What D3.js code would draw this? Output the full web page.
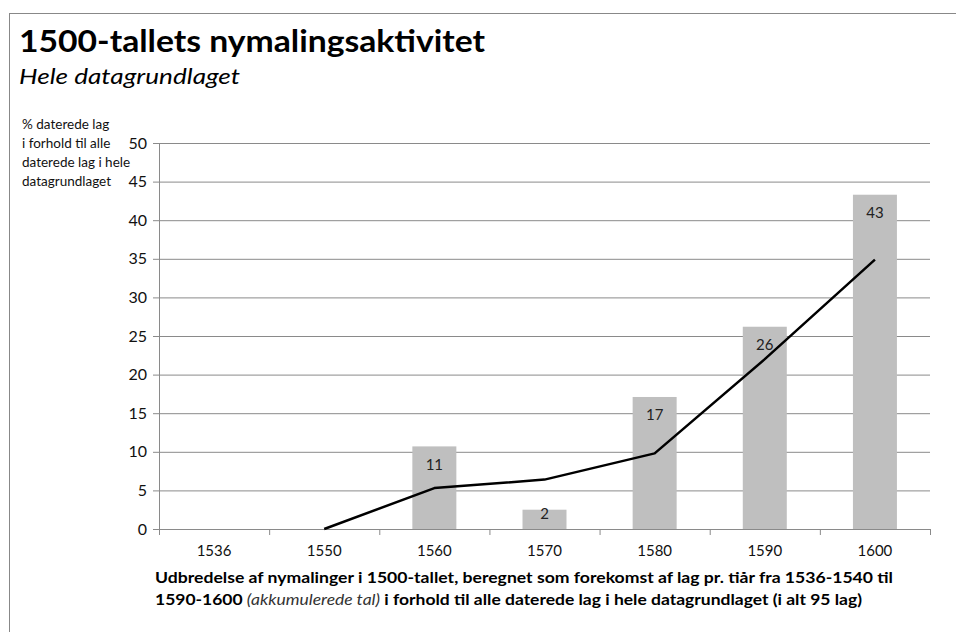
<!DOCTYPE html>
<html>
<head>
<meta charset="utf-8">
<script src="https://cdn.jsdelivr.net/npm/d3@7"></script>
<style>
  body { margin: 0; background: #fff; }
  svg { display: block; font-family: Lato, "Open Sans", sans-serif; }
</style>
</head>
<body>
<svg width="956" height="632"></svg>
<script>
'use strict';

// data
let years = ["1536", "1550", "1560", "1570", "1580", "1590", "1600"];
let barValues = [0, 0, 10.7, 2.5, 17.1, 26.2, 43.3];
let barLabels = ["", "", "11", "2", "17", "26", "43"];
let lineValues = [null, 0, 5.3, 6.4, 9.8, 22, 34.9];
let yTicks = [0, 5, 10, 15, 20, 25, 30, 35, 40, 45, 50];
let yTitle = ["% daterede lag", "i forhold til alle", "daterede lag i hele", "datagrundlaget"];

let svg = d3.select("svg");

// outer frame
svg.append("rect")
  .attr("x", 9.5).attr("y", 13.5)
  .attr("width", 960).attr("height", 640)
  .attr("fill", "none")
  .attr("stroke", "#888");

let plotL = 159, plotR = 930, plotT = 143, plotB = 529;

let x = d3.scaleBand().domain(years).range([plotL, plotR]);
let y = d3.scaleLinear().domain([0, 50]).range([plotB, plotT]);

// title
svg.append("text")
  .attr("x", 19).attr("y", 52)
  .attr("font-size", 31).attr("font-weight", "bold")
  .attr("textLength", 466).attr("lengthAdjust", "spacingAndGlyphs")
  .text("1500-tallets nymalingsaktivitet");

svg.append("text")
  .attr("x", 19).attr("y", 84)
  .attr("font-size", 22).attr("font-style", "italic")
  .attr("textLength", 221).attr("lengthAdjust", "spacingAndGlyphs")
  .text("Hele datagrundlaget");

// y axis title
svg.append("g")
  .selectAll("text")
  .data(yTitle)
  .join("text")
    .attr("x", 22)
    .attr("y", (d, i) => 129 + i * 19)
    .attr("font-size", 13.5)
    .attr("fill", "#111")
    .text(d => d);

// gridlines + y labels
let yAxis = svg.append("g")
  .attr("transform", `translate(${plotL},0)`)
  .call(d3.axisLeft(y).tickValues(yTicks).tickSize(-(plotR - plotL)).tickPadding(12));
yAxis.select(".domain").remove();
yAxis.selectAll(".tick line")
  .attr("x1", -6)
  .attr("stroke", "#8a8a8a");
yAxis.selectAll(".tick text")
  .attr("font-size", 16)
  .attr("font-family", "Lato, 'Open Sans', sans-serif")
  .attr("fill", "#111");

// left axis line
svg.append("line")
  .attr("x1", plotL + 0.5).attr("x2", plotL + 0.5)
  .attr("y1", plotT).attr("y2", plotB)
  .attr("stroke", "#8a8a8a");

// bars
let barW = 44;
svg.append("g")
  .attr("fill", "#bfbfbf")
  .selectAll("rect")
  .data(barValues)
  .join("rect")
    .attr("x", (d, i) => x(years[i]) + x.bandwidth() / 2 - barW / 2)
    .attr("y", d => y(d))
    .attr("width", barW)
    .attr("height", d => plotB - y(d));

// bar labels
svg.append("g")
  .selectAll("text")
  .data(barValues)
  .join("text")
    .attr("x", (d, i) => x(years[i]) + x.bandwidth() / 2)
    .attr("y", d => Math.min(y(d) + 18, plotB - 15))
    .attr("dy", "0.35em")
    .attr("text-anchor", "middle")
    .attr("font-size", 15)
    .attr("fill", "#222")
    .text((d, i) => barLabels[i]);

// x axis
let xAxis = svg.append("g")
  .attr("transform", `translate(0,${plotB})`)
  .call(d3.axisBottom(x).tickSize(0).tickPadding(16));
xAxis.select(".domain")
  .attr("stroke", "#8a8a8a")
  .attr("d", `M${plotL},0.5H${plotR}`);
xAxis.selectAll(".tick text")
  .attr("font-size", 15)
  .attr("font-family", "Lato, 'Open Sans', sans-serif")
  .attr("fill", "#111");

// category separators below the axis
svg.append("g")
  .attr("stroke", "#8a8a8a")
  .selectAll("line")
  .data(years.concat(["end"]))
  .join("line")
    .attr("x1", (d, i) => plotL + i * x.bandwidth() + 0.5)
    .attr("x2", (d, i) => plotL + i * x.bandwidth() + 0.5)
    .attr("y1", plotB)
    .attr("y2", plotB + 6);

// cumulative line
let line = d3.line()
  .defined(d => d != null)
  .x((d, i) => x(years[i]) + x.bandwidth() / 2)
  .y(d => y(d));

svg.append("path")
  .datum(lineValues)
  .attr("fill", "none")
  .attr("stroke", "#000")
  .attr("stroke-width", 2.5)
  .attr("stroke-linejoin", "round")
  .attr("d", line);

// caption
let cap = svg.append("g")
  .attr("font-size", 14.5)
  .attr("font-weight", "bold")
  .attr("fill", "#000");

cap.append("text")
  .attr("x", 155).attr("y", 583)
  .attr("textLength", 738).attr("lengthAdjust", "spacingAndGlyphs")
  .text("Udbredelse af nymalinger i 1500-tallet, beregnet som forekomst af lag pr. tiår  fra 1536-1540 til");

let cap2 = cap.append("text")
  .attr("x", 155).attr("y", 605)
  .attr("textLength", 707).attr("lengthAdjust", "spacingAndGlyphs");
cap2.append("tspan").text("1590-1600 ");
cap2.append("tspan")
  .attr("font-weight", "normal")
  .attr("font-style", "italic")
  .attr("fill", "#333")
  .text("(akkumulerede tal)");
cap2.append("tspan").text(" i forhold til alle daterede lag i hele datagrundlaget (i alt 95 lag)");
</script>
</body>
</html>
